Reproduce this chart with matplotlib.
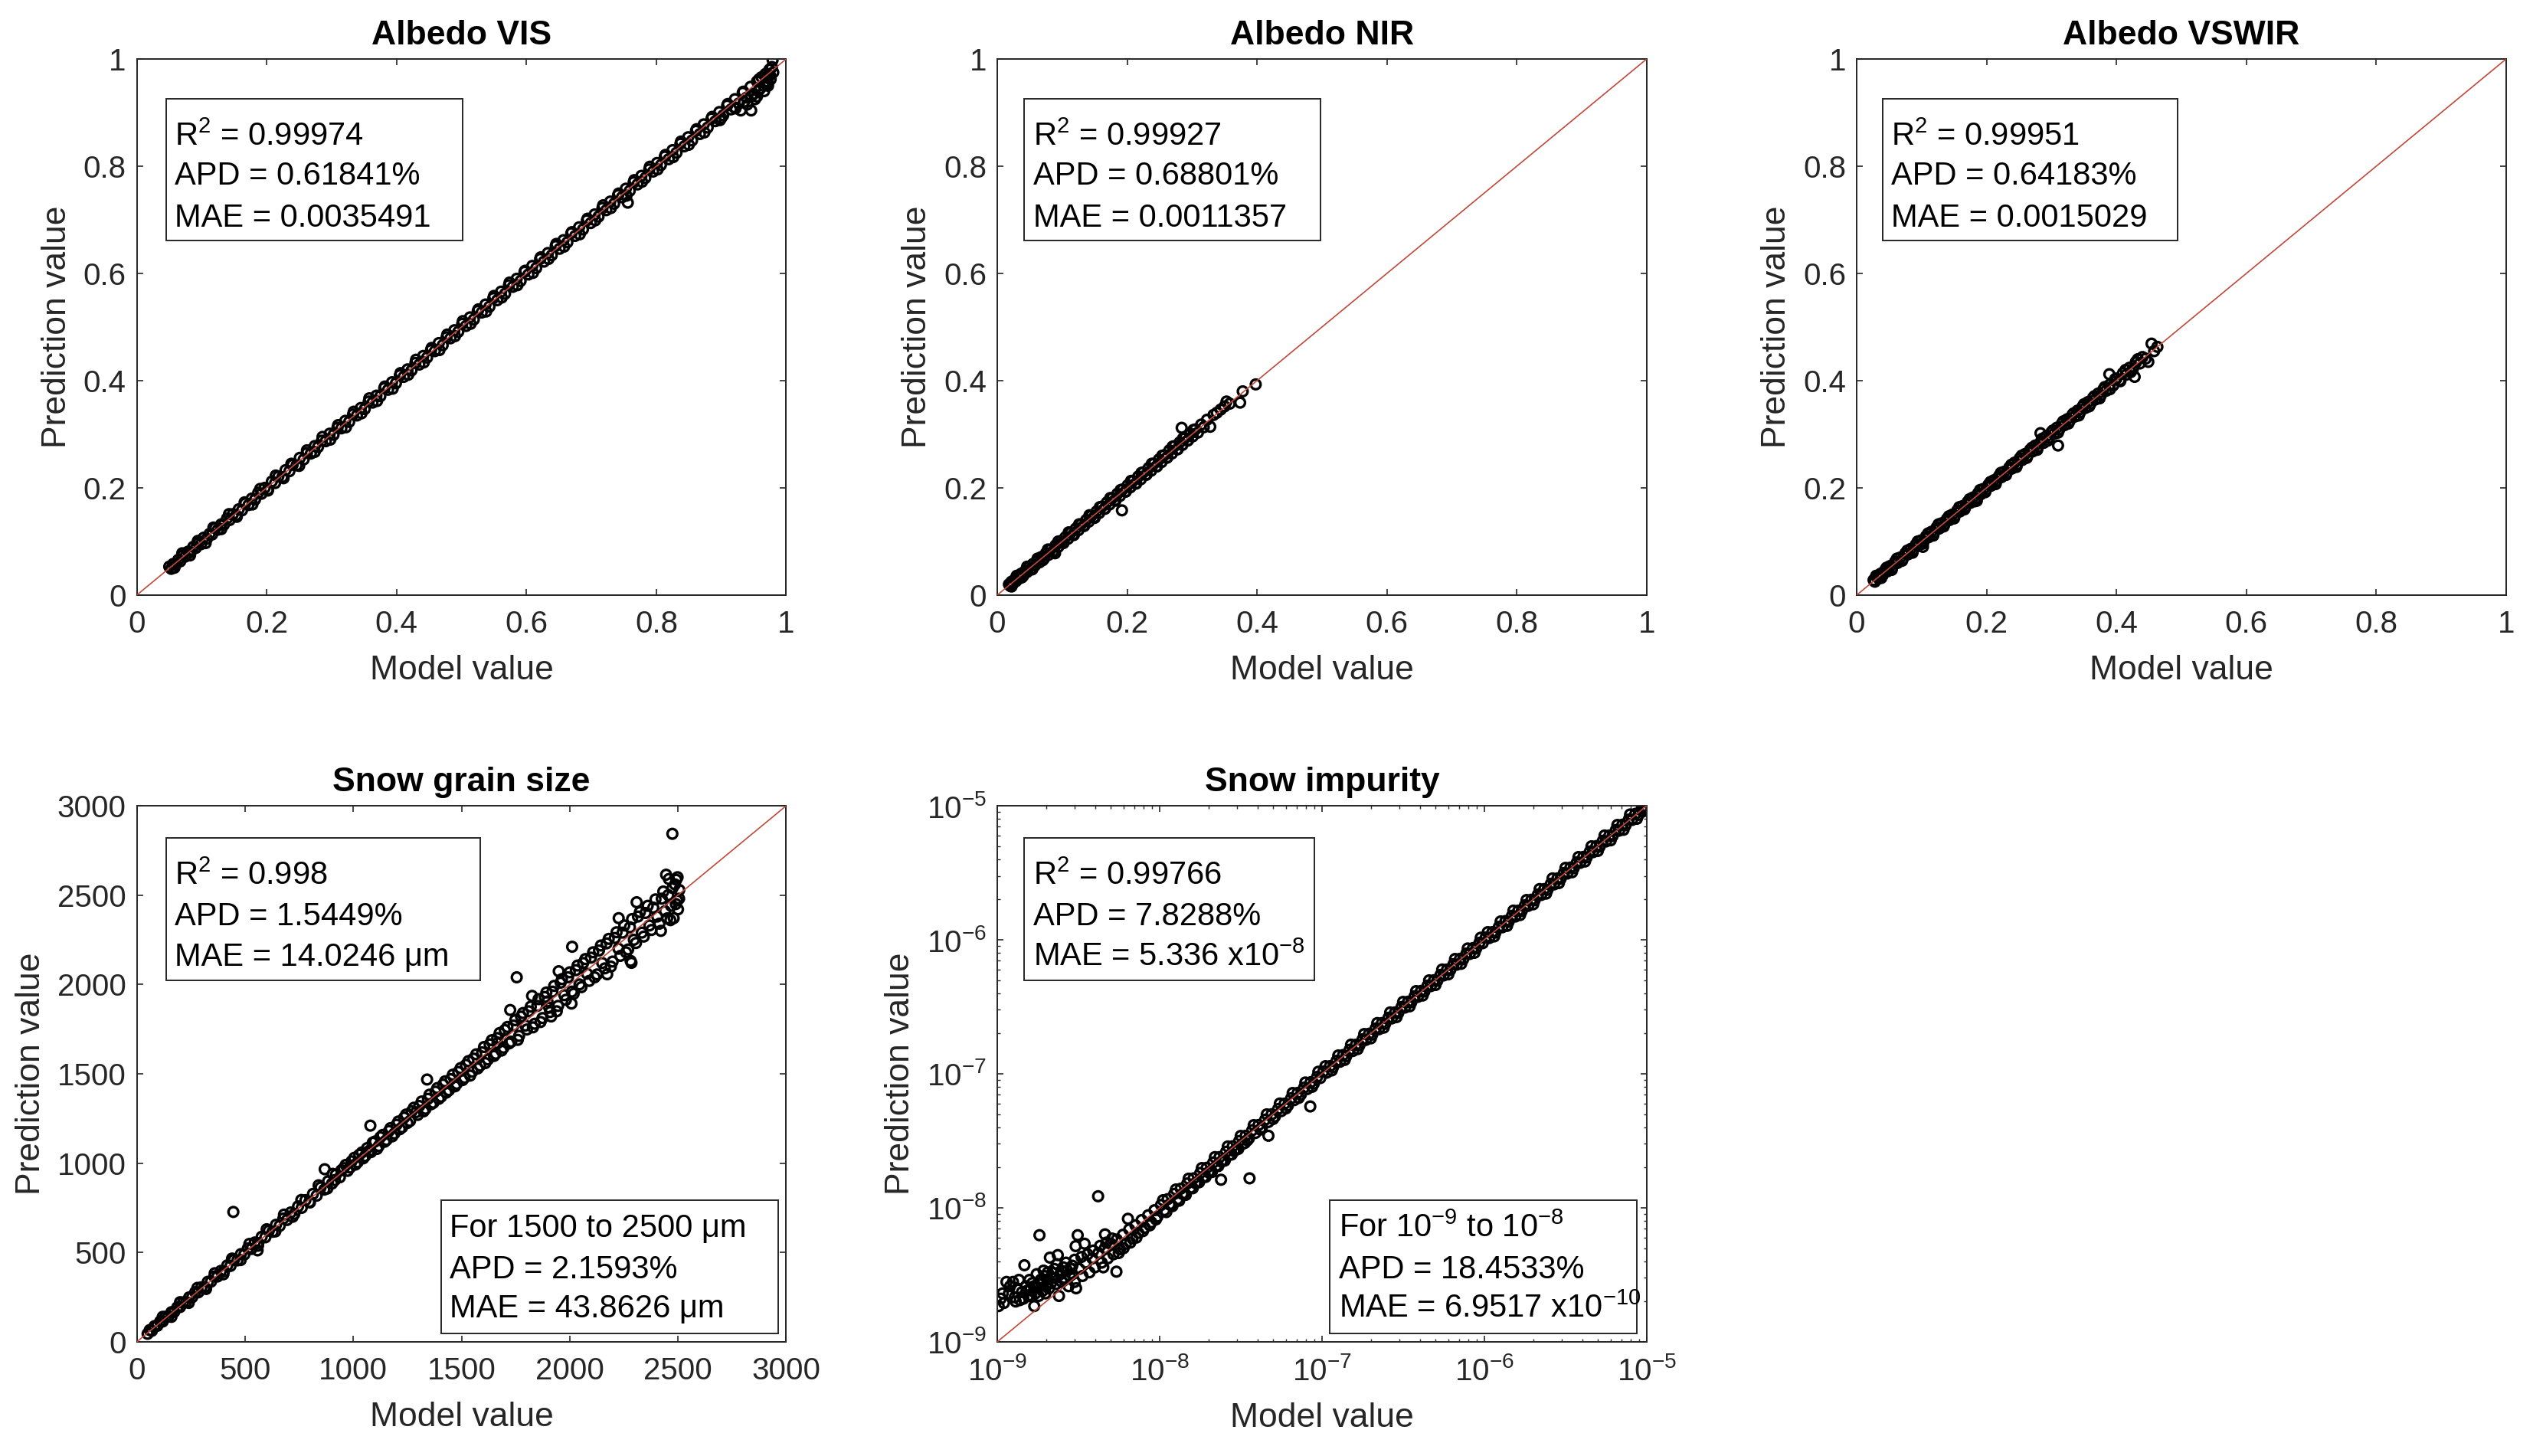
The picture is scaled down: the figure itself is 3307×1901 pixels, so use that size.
import numpy as np
import matplotlib.pyplot as plt
from matplotlib.patches import Rectangle

plt.rcParams['font.family'] = ['Liberation Sans', 'DejaVu Sans']
plt.rcParams['mathtext.fontset'] = 'custom'
plt.rcParams['mathtext.rm'] = 'Liberation Sans'
plt.rcParams['mathtext.it'] = 'Liberation Sans:italic'
plt.rcParams['mathtext.bf'] = 'Liberation Sans:bold'

# ---- data ----
vis_model = [0.050, 0.053, 0.056, 0.060, 0.064, 0.067, 0.071, 0.075, 0.079, 0.083,
             0.087, 0.091, 0.095, 0.099, 0.103, 0.108, 0.112, 0.116, 0.121, 0.125,
             0.130, 0.134, 0.139, 0.143, 0.148, 0.153, 0.157, 0.162, 0.167, 0.172,
             0.177, 0.182, 0.187, 0.192, 0.197, 0.202, 0.208, 0.213, 0.218, 0.224,
             0.229, 0.235, 0.240, 0.246, 0.251, 0.257, 0.262, 0.268, 0.274, 0.279,
             0.285, 0.291, 0.297, 0.303, 0.309, 0.315, 0.321, 0.327, 0.333, 0.339,
             0.345, 0.351, 0.357, 0.363, 0.369, 0.375, 0.381, 0.387, 0.393, 0.399,
             0.405, 0.411, 0.417, 0.423, 0.429, 0.435, 0.441, 0.447, 0.453, 0.459,
             0.465, 0.471, 0.477, 0.483, 0.489, 0.495, 0.501, 0.507, 0.513, 0.519,
             0.525, 0.531, 0.537, 0.543, 0.549, 0.555, 0.561, 0.567, 0.573, 0.579,
             0.585, 0.591, 0.597, 0.603, 0.609, 0.615, 0.621, 0.627, 0.633, 0.639,
             0.645, 0.651, 0.657, 0.663, 0.669, 0.675, 0.681, 0.687, 0.693, 0.699,
             0.705, 0.711, 0.717, 0.723, 0.729, 0.735, 0.741, 0.747, 0.753, 0.756,
             0.759, 0.765, 0.771, 0.777, 0.783, 0.789, 0.795, 0.801, 0.807, 0.813,
             0.819, 0.825, 0.831, 0.837, 0.843, 0.849, 0.855, 0.861, 0.867, 0.873,
             0.879, 0.885, 0.891, 0.897, 0.903, 0.909, 0.915, 0.921, 0.927, 0.930,
             0.933, 0.939, 0.945, 0.946, 0.950, 0.955, 0.958, 0.962, 0.965, 0.968,
             0.971, 0.974, 0.976, 0.979, 0.980,
             0.900, 0.920, 0.935, 0.940, 0.952, 0.960, 0.966, 0.970, 0.975, 0.978,
             0.972, 0.955,
             0.058, 0.070, 0.082, 0.094, 0.106, 0.118, 0.130, 0.142, 0.154, 0.166,
             0.178, 0.190, 0.202, 0.214, 0.226, 0.238, 0.250, 0.262, 0.274, 0.286,
             0.298, 0.310, 0.322, 0.334, 0.346, 0.358, 0.370, 0.382, 0.394, 0.406,
             0.418, 0.430, 0.442, 0.454, 0.466, 0.478, 0.490, 0.502, 0.514, 0.526,
             0.538, 0.550, 0.562, 0.574, 0.586, 0.598, 0.610, 0.622, 0.634, 0.646,
             0.658, 0.670, 0.682, 0.694, 0.706, 0.718, 0.730, 0.742, 0.754, 0.766,
             0.778, 0.790, 0.802, 0.814, 0.826, 0.838, 0.850, 0.862, 0.874, 0.886,
             0.898, 0.910, 0.922, 0.934, 0.946, 0.958, 0.970]
vis_pred = [0.053, 0.049, 0.058, 0.057, 0.066, 0.063, 0.074, 0.072, 0.081, 0.080,
            0.090, 0.088, 0.097, 0.095, 0.107, 0.105, 0.114, 0.113, 0.125, 0.122,
            0.132, 0.131, 0.143, 0.140, 0.151, 0.149, 0.160, 0.158, 0.171, 0.168,
            0.180, 0.178, 0.191, 0.189, 0.200, 0.197, 0.212, 0.209, 0.221, 0.220,
            0.233, 0.231, 0.243, 0.242, 0.256, 0.253, 0.265, 0.264, 0.278, 0.276,
            0.288, 0.287, 0.301, 0.299, 0.312, 0.311, 0.325, 0.323, 0.337, 0.335,
            0.349, 0.347, 0.361, 0.359, 0.372, 0.371, 0.386, 0.383, 0.397, 0.395,
            0.410, 0.407, 0.421, 0.419, 0.433, 0.430, 0.446, 0.443, 0.457, 0.455,
            0.470, 0.466, 0.481, 0.479, 0.494, 0.491, 0.506, 0.502, 0.518, 0.514,
            0.530, 0.527, 0.542, 0.538, 0.554, 0.550, 0.566, 0.562, 0.578, 0.575,
            0.590, 0.586, 0.603, 0.598, 0.614, 0.610, 0.627, 0.622, 0.638, 0.634,
            0.651, 0.646, 0.662, 0.658, 0.675, 0.670, 0.686, 0.682, 0.699, 0.694,
            0.710, 0.706, 0.722, 0.718, 0.734, 0.730, 0.746, 0.742, 0.758, 0.732,
            0.754, 0.770, 0.766, 0.782, 0.778, 0.794, 0.790, 0.806, 0.802, 0.818,
            0.813, 0.830, 0.825, 0.842, 0.837, 0.854, 0.848, 0.866, 0.860, 0.878,
            0.872, 0.889, 0.884, 0.901, 0.895, 0.913, 0.906, 0.925, 0.917, 0.904,
            0.937, 0.928, 0.948, 0.904, 0.935, 0.958, 0.942, 0.966, 0.950, 0.972,
            0.958, 0.980, 0.962, 0.998, 0.975,
            0.890, 0.910, 0.920, 0.915, 0.925, 0.945, 0.940, 0.965, 0.970, 0.985,
            0.950, 0.930,
            0.051, 0.078, 0.074, 0.101, 0.097, 0.126, 0.123, 0.151, 0.146, 0.173,
            0.169, 0.198, 0.195, 0.223, 0.218, 0.245, 0.241, 0.270, 0.267, 0.295,
            0.290, 0.317, 0.313, 0.342, 0.339, 0.367, 0.362, 0.389, 0.385, 0.414,
            0.411, 0.439, 0.434, 0.461, 0.457, 0.486, 0.483, 0.511, 0.506, 0.533,
            0.529, 0.558, 0.555, 0.583, 0.578, 0.605, 0.601, 0.630, 0.627, 0.655,
            0.650, 0.677, 0.673, 0.702, 0.699, 0.727, 0.722, 0.749, 0.745, 0.774,
            0.771, 0.799, 0.794, 0.821, 0.817, 0.846, 0.840, 0.869, 0.863, 0.892,
            0.886, 0.916, 0.908, 0.939, 0.930, 0.962, 0.952]

nir_model = [0.018, 0.020, 0.022, 0.024, 0.027, 0.029, 0.032, 0.034, 0.037, 0.040,
             0.043, 0.046, 0.049, 0.052, 0.055, 0.058, 0.062, 0.065, 0.068, 0.072,
             0.075, 0.079, 0.082, 0.086, 0.089, 0.090, 0.094, 0.098, 0.101, 0.105,
             0.109, 0.113, 0.117, 0.121, 0.125, 0.129, 0.133, 0.137, 0.141, 0.145,
             0.149, 0.153, 0.157, 0.161, 0.165, 0.169, 0.173, 0.177, 0.181, 0.185,
             0.189, 0.192, 0.193, 0.197, 0.201, 0.205, 0.209, 0.213, 0.217, 0.221,
             0.225, 0.229, 0.233, 0.237, 0.241, 0.245, 0.249, 0.253, 0.257, 0.261,
             0.265, 0.269, 0.273, 0.277, 0.281, 0.284, 0.285, 0.289, 0.293, 0.297,
             0.301, 0.305, 0.309, 0.314, 0.318, 0.323, 0.328, 0.333, 0.338, 0.344,
             0.350, 0.353, 0.358, 0.374, 0.378, 0.398,
             0.022, 0.030, 0.038, 0.046, 0.054, 0.062, 0.070, 0.078, 0.086, 0.094,
             0.102, 0.110, 0.118, 0.126, 0.134, 0.142, 0.150, 0.158, 0.166, 0.174,
             0.182, 0.190, 0.198, 0.206, 0.214, 0.222, 0.230, 0.238, 0.246, 0.254,
             0.262, 0.270, 0.278, 0.286, 0.294, 0.302]
nir_pred = [0.020, 0.017, 0.025, 0.021, 0.029, 0.026, 0.034, 0.031, 0.040, 0.036,
            0.045, 0.043, 0.052, 0.048, 0.058, 0.055, 0.064, 0.061, 0.071, 0.068,
            0.078, 0.075, 0.085, 0.082, 0.078, 0.093, 0.090, 0.101, 0.098, 0.108,
            0.105, 0.116, 0.113, 0.124, 0.121, 0.132, 0.129, 0.140, 0.137, 0.148,
            0.145, 0.156, 0.153, 0.165, 0.161, 0.173, 0.169, 0.181, 0.177, 0.189,
            0.185, 0.158, 0.197, 0.193, 0.205, 0.201, 0.213, 0.208, 0.221, 0.216,
            0.229, 0.224, 0.237, 0.232, 0.245, 0.240, 0.253, 0.248, 0.261, 0.256,
            0.270, 0.264, 0.278, 0.272, 0.285, 0.312, 0.280, 0.293, 0.288, 0.301,
            0.296, 0.309, 0.303, 0.318, 0.313, 0.327, 0.314, 0.336, 0.340, 0.346,
            0.352, 0.361, 0.357, 0.359, 0.380, 0.393,
            0.016, 0.036, 0.033, 0.053, 0.048, 0.068, 0.065, 0.085, 0.080, 0.100,
            0.097, 0.117, 0.112, 0.132, 0.129, 0.149, 0.144, 0.164, 0.161, 0.181,
            0.176, 0.196, 0.193, 0.213, 0.208, 0.228, 0.225, 0.245, 0.240, 0.260,
            0.257, 0.277, 0.272, 0.292, 0.289, 0.308]

vswir_model = [0.026, 0.028, 0.031, 0.034, 0.037, 0.040, 0.044, 0.047, 0.051, 0.055,
               0.059, 0.063, 0.067, 0.071, 0.075, 0.079, 0.083, 0.087, 0.091, 0.095,
               0.099, 0.102, 0.103, 0.107, 0.111, 0.115, 0.119, 0.123, 0.127, 0.131,
               0.135, 0.139, 0.143, 0.147, 0.151, 0.155, 0.159, 0.163, 0.167, 0.171,
               0.175, 0.179, 0.183, 0.185, 0.187, 0.191, 0.195, 0.199, 0.203, 0.207,
               0.211, 0.215, 0.219, 0.223, 0.227, 0.231, 0.235, 0.239, 0.243, 0.247,
               0.251, 0.255, 0.259, 0.263, 0.267, 0.271, 0.275, 0.279, 0.283, 0.284,
               0.288, 0.292, 0.296, 0.300, 0.304, 0.308, 0.310, 0.312, 0.316, 0.320,
               0.324, 0.328, 0.332, 0.336, 0.340, 0.344, 0.348, 0.352, 0.356, 0.360,
               0.364, 0.368, 0.372, 0.376, 0.380, 0.384, 0.389, 0.390, 0.395, 0.400,
               0.405, 0.410, 0.415, 0.420, 0.425, 0.428, 0.430, 0.433, 0.436, 0.440,
               0.445, 0.449, 0.454, 0.458, 0.463,
               0.030, 0.038, 0.046, 0.054, 0.062, 0.070, 0.078, 0.086, 0.094, 0.102,
               0.110, 0.118, 0.126, 0.134, 0.142, 0.150, 0.158, 0.166, 0.174, 0.182,
               0.190, 0.198, 0.206, 0.214, 0.222, 0.230, 0.238, 0.246, 0.254, 0.262,
               0.270, 0.278, 0.286, 0.294, 0.302, 0.310, 0.318, 0.326, 0.334, 0.342,
               0.350, 0.358, 0.366, 0.374, 0.382, 0.390, 0.398, 0.406, 0.414, 0.422,
               0.430]
vswir_pred = [0.028, 0.025, 0.034, 0.031, 0.040, 0.037, 0.047, 0.044, 0.054, 0.052,
              0.062, 0.060, 0.070, 0.068, 0.078, 0.076, 0.086, 0.084, 0.094, 0.092,
              0.102, 0.090, 0.100, 0.110, 0.108, 0.118, 0.116, 0.126, 0.124, 0.134,
              0.132, 0.142, 0.140, 0.150, 0.148, 0.158, 0.156, 0.166, 0.164, 0.174,
              0.172, 0.182, 0.180, 0.176, 0.190, 0.188, 0.198, 0.196, 0.206, 0.204,
              0.214, 0.212, 0.222, 0.220, 0.230, 0.228, 0.238, 0.236, 0.247, 0.244,
              0.255, 0.252, 0.263, 0.260, 0.271, 0.268, 0.279, 0.276, 0.302, 0.287,
              0.284, 0.296, 0.293, 0.304, 0.301, 0.312, 0.279, 0.309, 0.320, 0.317,
              0.328, 0.325, 0.336, 0.333, 0.344, 0.341, 0.352, 0.349, 0.360, 0.357,
              0.368, 0.365, 0.376, 0.373, 0.384, 0.381, 0.412, 0.393, 0.391, 0.404,
              0.401, 0.414, 0.411, 0.424, 0.421, 0.407, 0.434, 0.440, 0.432, 0.444,
              0.441, 0.435, 0.469, 0.455, 0.463,
              0.036, 0.032, 0.051, 0.047, 0.068, 0.064, 0.083, 0.079, 0.100, 0.096,
              0.115, 0.111, 0.132, 0.128, 0.147, 0.143, 0.164, 0.160, 0.179, 0.175,
              0.196, 0.192, 0.211, 0.207, 0.228, 0.224, 0.243, 0.239, 0.260, 0.256,
              0.275, 0.271, 0.292, 0.288, 0.307, 0.303, 0.324, 0.320, 0.339, 0.335,
              0.356, 0.352, 0.371, 0.367, 0.388, 0.384, 0.403, 0.399, 0.420, 0.416,
              0.435]

grain_model = [50, 60, 70, 82, 95, 108, 120, 133, 146, 160,
               173, 187, 200, 214, 228, 242, 256, 270, 284, 298,
               313, 328, 343, 358, 373, 388, 403, 418, 433, 446,
               449, 465, 481, 497, 513, 529, 545, 558, 561, 577,
               594, 610, 627, 643, 660, 677, 694, 711, 728, 745,
               762, 779, 797, 814, 831, 849, 866, 868, 884, 902,
               920, 938, 956, 974, 992, 1010, 1028, 1046, 1064, 1079,
               1082, 1100, 1118, 1136, 1154, 1172, 1190, 1208, 1226, 1244,
               1262, 1280, 1298, 1316, 1334, 1341, 1352, 1370, 1388, 1406,
               1424, 1442, 1460, 1478, 1496, 1514, 1532, 1550, 1568, 1586,
               1604, 1622, 1640, 1658, 1666, 1676, 1694, 1712, 1725, 1730,
               1748, 1755, 1766, 1784, 1802, 1820, 1826, 1838, 1856, 1874,
               1892, 1897, 1910, 1914, 1928, 1946, 1949, 1964, 1982, 2000,
               2008, 2011, 2018, 2036, 2054, 2072, 2090, 2108, 2126, 2144,
               2162, 2173, 2180, 2198, 2216, 2226, 2234, 2252, 2270, 2281,
               2285, 2288, 2306, 2309, 2324, 2342, 2360, 2378, 2396, 2414,
               2421, 2432, 2445, 2450, 2458, 2468, 2474, 2480, 2486, 2492,
               2496, 2500, 2506,
               905, 915, 945, 965, 985, 1005, 1020, 1040, 1055, 1075,
               1090, 1110, 1125, 1145, 1165, 1180, 1200, 1215, 1235, 1250,
               1270, 1290, 1305, 1325, 1345, 1360, 1380, 1395, 1415, 1430,
               1450, 1470, 1485, 1505, 1520, 1540, 1555, 1575, 1595, 1610,
               1630, 1650, 1665, 1685, 1700, 1720, 1740, 1760, 1775, 1795,
               1810, 1830, 1850, 1865, 1885, 1905, 1920, 1940, 1958, 1975,
               1992, 2010, 2028, 2045, 2062, 2080, 2098, 2115, 2135, 2150,
               2170, 2190, 2208, 2225, 2244, 2260, 2278, 2296, 2315, 2333,
               2350, 2368, 2386, 2404, 2425, 2440, 2455, 2465, 2475, 2490,
               2498, 2505,
               120, 160, 200, 240, 280, 320, 360, 400, 440, 480,
               520, 560, 600, 640, 680, 720, 760, 800, 840, 880]
grain_pred = [45, 66, 62, 88, 90, 114, 114, 140, 141, 166,
              168, 193, 195, 221, 222, 249, 250, 278, 277, 305,
              306, 336, 337, 366, 366, 397, 395, 428, 425, 727,
              459, 456, 491, 489, 523, 520, 556, 512, 553, 588,
              585, 622, 616, 655, 649, 690, 682, 724, 716, 758,
              750, 793, 783, 828, 818, 864, 852, 966, 899, 886,
              936, 921, 972, 957, 1010, 992, 1047, 1027, 1084, 1210,
              1062, 1121, 1096, 1158, 1130, 1196, 1166, 1233, 1201, 1272,
              1236, 1310, 1270, 1345, 1304, 1468, 1383, 1338, 1420, 1372,
              1458, 1408, 1495, 1444, 1532, 1478, 1571, 1512, 1609, 1546,
              1650, 1580, 1688, 1612, 1671, 1728, 1646, 1762, 1857, 1680,
              1800, 2040, 1712, 1840, 1748, 1876, 1936, 1780, 1918, 1812,
              1955, 1905, 1846, 1821, 1992, 1880, 2074, 2030, 1914, 2068,
              1893, 2211, 1948, 2106, 1985, 2142, 2020, 2180, 2056, 2218,
              2090, 2057, 2255, 2128, 2292, 2371, 2160, 2330, 2196, 2132,
              2121, 2366, 2232, 2460, 2405, 2268, 2440, 2305, 2476, 2340,
              2300, 2520, 2614, 2370, 2590, 2440, 2843, 2371, 2560, 2586,
              2470, 2420, 2529,
              940, 905, 960, 990, 975, 1030, 1005, 1060, 1040, 1070,
              1115, 1080, 1145, 1120, 1180, 1150, 1215, 1190, 1255, 1225,
              1290, 1285, 1320, 1290, 1360, 1330, 1400, 1360, 1440, 1395,
              1470, 1430, 1510, 1465, 1550, 1490, 1585, 1530, 1620, 1560,
              1665, 1600, 1700, 1630, 1745, 1670, 1770, 1690, 1820, 1770,
              1850, 1760, 1880, 1790, 1930, 1870, 1960, 1850, 2010, 1940,
              2040, 1960, 2080, 2000, 2120, 2060, 2150, 2040, 2190, 2120,
              2230, 2100, 2260, 2200, 2290, 2180, 2320, 2250, 2380, 2290,
              2400, 2330, 2430, 2380, 2480, 2410, 2500, 2360, 2540, 2450,
              2600, 2480,
              140, 140, 222, 218, 302, 296, 384, 378, 466, 458,
              548, 538, 630, 618, 712, 700, 794, 780, 876, 858]

imp_model = [1.02e-9, 1.05e-9, 1.10e-9, 1.14e-9, 1.18e-9, 1.25e-9, 1.28e-9, 1.33e-9, 1.38e-9, 1.42e-9,
             1.47e-9, 1.50e-9, 1.55e-9, 1.60e-9, 1.65e-9, 1.69e-9, 1.72e-9, 1.78e-9, 1.82e-9, 1.85e-9,
             1.90e-9, 1.95e-9, 2.00e-9, 2.05e-9, 2.11e-9, 2.15e-9, 2.20e-9, 2.25e-9, 2.30e-9, 2.36e-9,
             2.40e-9, 2.45e-9, 2.50e-9, 2.55e-9, 2.60e-9, 2.70e-9, 2.80e-9, 2.90e-9, 3.04e-9, 3.06e-9,
             3.13e-9, 3.45e-9, 4.18e-9, 4.61e-9, 5.42e-9, 6.38e-9,
             2.60e-9, 2.75e-9, 2.90e-9, 3.00e-9, 3.20e-9, 3.35e-9, 3.50e-9, 3.70e-9, 3.85e-9, 4.00e-9,
             4.20e-9, 4.40e-9, 4.60e-9, 4.80e-9, 5.00e-9, 5.20e-9, 5.45e-9, 5.70e-9, 5.95e-9, 6.20e-9,
             6.50e-9, 6.80e-9, 7.10e-9, 7.40e-9, 7.75e-9, 8.10e-9, 8.50e-9, 8.90e-9, 9.30e-9, 9.70e-9,
             1.02e-8, 1.07e-8, 1.12e-8, 1.17e-8, 1.23e-8, 1.29e-8, 1.35e-8, 1.41e-8, 1.48e-8, 1.55e-8,
             1.62e-8, 1.70e-8, 1.78e-8, 1.86e-8, 1.95e-8, 2.04e-8, 2.14e-8, 2.24e-8, 2.34e-8, 2.39e-8,
             2.45e-8, 2.57e-8, 2.69e-8, 2.82e-8, 2.95e-8, 3.09e-8, 3.24e-8, 3.39e-8, 3.58e-8, 3.55e-8,
             3.72e-8, 3.89e-8, 4.07e-8, 4.27e-8, 4.47e-8, 4.68e-8, 4.68e-8, 4.90e-8, 5.13e-8, 5.37e-8,
             5.62e-8, 5.89e-8, 6.17e-8, 6.46e-8, 6.76e-8, 7.08e-8, 7.41e-8, 7.76e-8, 8.13e-8, 8.47e-8,
             8.51e-8, 8.91e-8, 9.33e-8, 9.77e-8,
             1.02e-7, 1.07e-7, 1.12e-7, 1.17e-7, 1.23e-7, 1.29e-7, 1.35e-7, 1.41e-7, 1.48e-7, 1.55e-7,
             1.62e-7, 1.70e-7, 1.78e-7, 1.86e-7, 1.95e-7, 2.04e-7, 2.14e-7, 2.24e-7, 2.34e-7, 2.45e-7,
             2.57e-7, 2.69e-7, 2.82e-7, 2.95e-7, 3.09e-7, 3.24e-7, 3.39e-7, 3.55e-7, 3.72e-7, 3.89e-7,
             4.07e-7, 4.27e-7, 4.47e-7, 4.68e-7, 4.90e-7, 5.13e-7, 5.37e-7, 5.62e-7, 5.89e-7, 6.17e-7,
             6.46e-7, 6.76e-7, 7.08e-7, 7.41e-7, 7.76e-7, 8.13e-7, 8.51e-7, 8.91e-7, 9.33e-7, 9.77e-7,
             1.02e-6, 1.07e-6, 1.12e-6, 1.17e-6, 1.23e-6, 1.29e-6, 1.35e-6, 1.41e-6, 1.48e-6, 1.55e-6,
             1.62e-6, 1.70e-6, 1.78e-6, 1.86e-6, 1.95e-6, 2.04e-6, 2.14e-6, 2.24e-6, 2.34e-6, 2.45e-6,
             2.57e-6, 2.69e-6, 2.82e-6, 2.95e-6, 3.09e-6, 3.24e-6, 3.39e-6, 3.55e-6, 3.72e-6, 3.89e-6,
             4.07e-6, 4.27e-6, 4.47e-6, 4.68e-6, 4.90e-6, 5.13e-6, 5.37e-6, 5.62e-6, 5.89e-6, 6.17e-6,
             6.46e-6, 6.76e-6, 7.08e-6, 7.41e-6, 7.76e-6, 8.13e-6, 8.51e-6, 8.91e-6, 9.33e-6, 9.55e-6,
             9.77e-6, 9.90e-6,
             1.08e-9, 1.20e-9, 1.30e-9, 1.36e-9, 1.45e-9, 1.52e-9, 1.58e-9, 1.62e-9, 1.68e-9, 1.75e-9,
             1.80e-9, 1.88e-9, 1.93e-9, 1.98e-9, 2.03e-9, 2.08e-9, 2.18e-9, 2.28e-9, 2.33e-9, 2.48e-9,
             2.65e-9, 2.85e-9, 3.00e-9, 3.30e-9, 3.60e-9, 3.90e-9, 4.30e-9, 4.70e-9, 5.10e-9, 4.50e-9,
             5.60e-9, 6.00e-9, 6.60e-9, 7.20e-9, 7.90e-9, 8.70e-9, 9.50e-9, 1.10e-8, 1.20e-8, 1.32e-8,
             1.45e-8, 1.60e-8, 1.75e-8, 1.92e-8, 2.10e-8, 2.30e-8, 2.52e-8, 2.78e-8, 3.05e-8, 3.35e-8,
             1.05e-8, 1.15e-8, 1.26e-8, 1.38e-8, 1.51e-8, 1.66e-8, 1.82e-8, 2.00e-8, 2.19e-8, 2.40e-8,
             2.63e-8, 2.88e-8, 3.16e-8, 3.47e-8, 3.80e-8, 4.17e-8, 4.57e-8, 5.00e-8, 5.50e-8, 6.00e-8,
             6.60e-8, 7.20e-8, 7.90e-8, 8.70e-8, 9.50e-8,
             1.05e-7, 1.15e-7, 1.26e-7, 1.38e-7, 1.51e-7, 1.66e-7, 1.82e-7, 2.00e-7, 2.19e-7, 2.40e-7,
             2.63e-7, 2.88e-7, 3.16e-7, 3.47e-7, 3.80e-7, 4.17e-7, 4.57e-7, 5.00e-7, 5.50e-7, 6.00e-7,
             6.60e-7, 7.20e-7, 7.90e-7, 8.70e-7, 9.50e-7,
             1.05e-6, 1.15e-6, 1.26e-6, 1.38e-6, 1.51e-6, 1.66e-6, 1.82e-6, 2.00e-6, 2.19e-6, 2.40e-6,
             2.63e-6, 2.88e-6, 3.16e-6, 3.47e-6, 3.80e-6, 4.17e-6, 4.57e-6, 5.00e-6, 5.50e-6, 6.00e-6,
             6.60e-6, 7.20e-6, 7.90e-6, 8.70e-6, 9.50e-6]
imp_pred = [1.85e-9, 2.10e-9, 1.95e-9, 2.80e-9, 2.30e-9, 2.80e-9, 2.15e-9, 2.50e-9, 2.05e-9, 2.35e-9,
            3.73e-9, 2.60e-9, 2.20e-9, 2.45e-9, 2.75e-9, 1.85e-9, 2.30e-9, 2.55e-9, 6.25e-9, 2.90e-9,
            2.40e-9, 3.10e-9, 2.60e-9, 3.30e-9, 4.25e-9, 2.75e-9, 3.00e-9, 3.50e-9, 2.70e-9, 4.44e-9,
            2.20e-9, 3.20e-9, 2.80e-9, 3.60e-9, 3.00e-9, 3.40e-9, 3.10e-9, 3.70e-9, 5.18e-9, 2.51e-9,
            6.25e-9, 5.40e-9, 1.22e-8, 6.34e-9, 3.34e-9, 8.28e-9,
            2.90e-9, 2.60e-9, 3.20e-9, 2.80e-9, 3.50e-9, 3.10e-9, 3.90e-9, 3.30e-9, 4.20e-9, 3.60e-9,
            4.60e-9, 3.90e-9, 5.00e-9, 4.20e-9, 5.40e-9, 4.50e-9, 5.80e-9, 4.90e-9, 6.30e-9, 5.40e-9,
            6.90e-9, 5.90e-9, 7.40e-9, 6.50e-9, 8.10e-9, 7.10e-9, 8.80e-9, 7.80e-9, 9.60e-9, 8.60e-9,
            1.05e-8, 9.60e-9, 1.16e-8, 1.05e-8, 1.27e-8, 1.16e-8, 1.39e-8, 1.28e-8, 1.52e-8, 1.41e-8,
            1.66e-8, 1.55e-8, 1.82e-8, 1.70e-8, 1.99e-8, 1.87e-8, 2.18e-8, 2.06e-8, 2.39e-8, 1.62e-8,
            2.26e-8, 2.62e-8, 2.48e-8, 2.88e-8, 2.73e-8, 3.15e-8, 3.00e-8, 3.45e-8, 1.66e-8, 3.30e-8,
            3.79e-8, 3.62e-8, 4.15e-8, 3.98e-8, 4.55e-8, 3.45e-8, 4.37e-8, 4.99e-8, 4.80e-8, 5.46e-8,
            5.27e-8, 5.99e-8, 5.80e-8, 6.57e-8, 6.37e-8, 7.20e-8, 7.00e-8, 7.89e-8, 7.70e-8, 5.71e-8,
            8.65e-8, 8.45e-8, 9.48e-8, 9.30e-8,
            1.04e-7, 1.02e-7, 1.14e-7, 1.12e-7, 1.25e-7, 1.23e-7, 1.38e-7, 1.35e-7, 1.51e-7, 1.48e-7,
            1.65e-7, 1.63e-7, 1.81e-7, 1.79e-7, 1.99e-7, 1.96e-7, 2.18e-7, 2.15e-7, 2.39e-7, 2.36e-7,
            2.62e-7, 2.59e-7, 2.87e-7, 2.84e-7, 3.15e-7, 3.12e-7, 3.45e-7, 3.42e-7, 3.79e-7, 3.75e-7,
            4.15e-7, 4.11e-7, 4.55e-7, 4.51e-7, 4.99e-7, 4.94e-7, 5.47e-7, 5.42e-7, 6.00e-7, 5.95e-7,
            6.58e-7, 6.52e-7, 7.21e-7, 7.15e-7, 7.90e-7, 7.84e-7, 8.67e-7, 8.60e-7, 9.50e-7, 9.43e-7,
            1.04e-6, 1.03e-6, 1.14e-6, 1.13e-6, 1.25e-6, 1.24e-6, 1.38e-6, 1.36e-6, 1.51e-6, 1.49e-6,
            1.65e-6, 1.64e-6, 1.81e-6, 1.79e-6, 1.99e-6, 1.97e-6, 2.18e-6, 2.16e-6, 2.39e-6, 2.36e-6,
            2.62e-6, 2.59e-6, 2.87e-6, 2.85e-6, 3.15e-6, 3.12e-6, 3.46e-6, 3.42e-6, 3.79e-6, 3.75e-6,
            4.15e-6, 4.12e-6, 4.56e-6, 4.51e-6, 5.00e-6, 4.95e-6, 5.48e-6, 5.42e-6, 6.00e-6, 5.95e-6,
            6.59e-6, 6.52e-6, 7.22e-6, 7.15e-6, 7.90e-6, 7.84e-6, 8.70e-6, 8.55e-6, 9.55e-6, 9.10e-6,
            1.00e-5, 9.40e-6,
            2.30e-9, 2.60e-9, 2.00e-9, 2.90e-9, 2.10e-9, 2.40e-9, 2.90e-9, 2.20e-9, 2.60e-9, 3.20e-9,
            2.20e-9, 2.70e-9, 3.40e-9, 2.30e-9, 2.90e-9, 2.50e-9, 3.30e-9, 3.00e-9, 3.80e-9, 3.40e-9,
            3.90e-9, 3.50e-9, 4.10e-9, 4.30e-9, 4.50e-9, 4.80e-9, 5.20e-9, 5.50e-9, 5.90e-9, 3.60e-9,
            4.60e-9, 5.00e-9, 5.50e-9, 6.00e-9, 6.70e-9, 7.40e-9, 8.20e-9, 9.30e-9, 1.03e-8, 1.13e-8,
            1.25e-8, 1.40e-8, 1.55e-8, 1.70e-8, 1.85e-8, 2.05e-8, 2.25e-8, 2.50e-8, 2.75e-8, 3.05e-8,
            1.14e-8, 1.06e-8, 1.37e-8, 1.27e-8, 1.65e-8, 1.53e-8, 1.98e-8, 1.84e-8, 2.39e-8, 2.21e-8,
            2.87e-8, 2.65e-8, 3.44e-8, 3.19e-8, 4.14e-8, 3.84e-8, 4.98e-8, 4.60e-8, 6.00e-8, 5.52e-8,
            7.19e-8, 6.62e-8, 8.61e-8, 8.00e-8, 1.036e-7,
            1.14e-7, 1.06e-7, 1.37e-7, 1.27e-7, 1.65e-7, 1.53e-7, 1.98e-7, 1.84e-7, 2.39e-7, 2.21e-7,
            2.87e-7, 2.65e-7, 3.44e-7, 3.19e-7, 4.14e-7, 3.84e-7, 4.98e-7, 4.60e-7, 6.00e-7, 5.52e-7,
            7.19e-7, 6.62e-7, 8.61e-7, 8.00e-7, 1.036e-6,
            1.14e-6, 1.06e-6, 1.37e-6, 1.27e-6, 1.65e-6, 1.53e-6, 1.98e-6, 1.84e-6, 2.39e-6, 2.21e-6,
            2.87e-6, 2.65e-6, 3.44e-6, 3.19e-6, 4.14e-6, 3.84e-6, 4.98e-6, 4.60e-6, 6.00e-6, 5.52e-6,
            7.19e-6, 6.62e-6, 8.61e-6, 8.00e-6, 9.80e-6]

lin_ticks = [0, 0.2, 0.4, 0.6, 0.8, 1]
lin_ticklabels = ['0', '0.2', '0.4', '0.6', '0.8', '1']
grain_ticks = [0, 500, 1000, 1500, 2000, 2500, 3000]

vis_stats = [r'R$^2$ = 0.99974', 'APD = 0.61841%', 'MAE = 0.0035491']
nir_stats = [r'R$^2$ = 0.99927', 'APD = 0.68801%', 'MAE = 0.0011357']
vswir_stats = [r'R$^2$ = 0.99951', 'APD = 0.64183%', 'MAE = 0.0015029']
grain_stats = [r'R$^2$ = 0.998', 'APD = 1.5449%', 'MAE = 14.0246 μm']
grain_sub = ['For 1500 to 2500 μm', 'APD = 2.1593%', 'MAE = 43.8626 μm']
imp_stats = [r'R$^2$ = 0.99766', 'APD = 7.8288%', r'MAE = 5.336 x10$^{-8}$']
imp_sub = [r'For 10$^{-9}$ to 10$^{-8}$', 'APD = 18.4533%', r'MAE = 6.9517 x10$^{-10}$']

DARK = '#262626'
LINE_RED = '#c04a3a'


def setup(ax, lim, title):
    ax.set_xlim(lim)
    ax.set_ylim(lim)
    ax.tick_params(which='both', direction='in', top=True, right=True,
                   colors=DARK, labelsize=14.5)
    ax.tick_params(which='major', length=2.9, width=0.6)
    ax.tick_params(which='minor', length=1.6, width=0.5)
    ax.tick_params(axis='x', which='both', pad=7)
    ax.tick_params(axis='y', which='both', pad=5)
    for sp in ax.spines.values():
        sp.set_color(DARK)
        sp.set_linewidth(0.7)
    ax.set_title(title, fontsize=16, fontweight='bold', pad=7)
    ax.set_xlabel('Model value', fontsize=16, color=DARK, labelpad=7.5)
    ax.set_ylabel('Prediction value', fontsize=16, color=DARK, labelpad=5)


def stat_box(ax, x0, y0, x1, y1, tx, lines, ys):
    ax.add_patch(Rectangle((x0, y0), x1 - x0, y1 - y0, transform=ax.transAxes,
                           fill=False, edgecolor=DARK, linewidth=0.7, zorder=5))
    for s, y in zip(lines, ys):
        ax.text(tx, y, s, transform=ax.transAxes, fontsize=15, color='black',
                ha='left', va='baseline', zorder=6)


def draw(ax, x, y, lim):
    ax.scatter(x, y, s=21, facecolors='none', edgecolors='black', linewidths=1.2, zorder=2)
    ax.plot(lim, lim, color=LINE_RED, lw=0.6, zorder=3)


fig = plt.figure(figsize=(16.535, 9.505), dpi=200)
W, H = 0.2564, 0.3682
row1, row2 = 0.5913, 0.0784
lefts = [0.0540, 0.3937, 0.7330]

row1_y = [0.839, 0.765, 0.687]
row2_y = [0.853, 0.777, 0.702]
sub_y = [0.196, 0.118, 0.045]

# Albedo VIS
ax = fig.add_axes([lefts[0], row1, W, H])
lim = [0, 1]
draw(ax, vis_model, vis_pred, lim)
setup(ax, lim, 'Albedo VIS')
ax.set_xticks(lin_ticks, lin_ticklabels)
ax.set_yticks(lin_ticks, lin_ticklabels)
stat_box(ax, 0.0455, 0.661, 0.502, 0.926, 0.058, vis_stats, row1_y)

# Albedo NIR
ax = fig.add_axes([lefts[1], row1, W, H])
draw(ax, nir_model, nir_pred, lim)
setup(ax, lim, 'Albedo NIR')
ax.set_xticks(lin_ticks, lin_ticklabels)
ax.set_yticks(lin_ticks, lin_ticklabels)
stat_box(ax, 0.041, 0.661, 0.4975, 0.926, 0.055, nir_stats, row1_y)

# Albedo VSWIR
ax = fig.add_axes([lefts[2], row1, W, H])
draw(ax, vswir_model, vswir_pred, lim)
setup(ax, lim, 'Albedo VSWIR')
ax.set_xticks(lin_ticks, lin_ticklabels)
ax.set_yticks(lin_ticks, lin_ticklabels)
stat_box(ax, 0.040, 0.661, 0.494, 0.926, 0.053, vswir_stats, row1_y)

# Snow grain size
ax = fig.add_axes([lefts[0], row2, W, H])
lim = [0, 3000]
draw(ax, grain_model, grain_pred, lim)
setup(ax, lim, 'Snow grain size')
ax.set_xticks(grain_ticks)
ax.set_yticks(grain_ticks)
stat_box(ax, 0.045, 0.674, 0.529, 0.940, 0.058, grain_stats, row2_y)
stat_box(ax, 0.469, 0.0155, 0.988, 0.264, 0.482, grain_sub, sub_y)

# Snow impurity
ax = fig.add_axes([lefts[1], row2, W, H])
ax.set_xscale('log')
ax.set_yscale('log')
lim = [1e-9, 1e-5]
draw(ax, imp_model, imp_pred, lim)
setup(ax, lim, 'Snow impurity')
stat_box(ax, 0.041, 0.674, 0.488, 0.940, 0.0554, imp_stats, row2_y)
stat_box(ax, 0.512, 0.0155, 0.985, 0.264, 0.526, imp_sub, sub_y)

fig.savefig('out.png', dpi=200, facecolor='white')
